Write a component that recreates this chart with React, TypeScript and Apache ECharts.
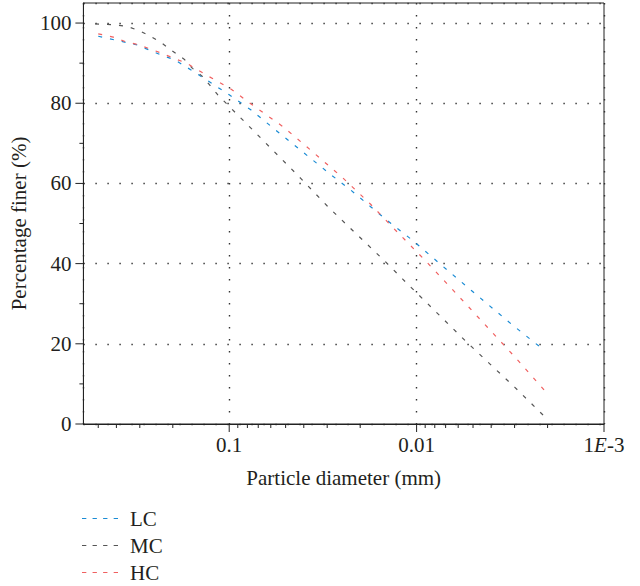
import React, { useEffect, useRef } from "react";
import * as echarts from "echarts";

// ---- Data (particle diameter in mm, percentage finer in %) ----
const LC_D = [0.5, 0.313, 0.23, 0.195, 0.15, 0.1, 0.0764, 0.0468, 0.0287, 0.0224, 0.0176, 0.0137, 0.0105, 0.0074, 0.0051, 0.0031, 0.0021];
const LC_P = [96.7, 94.6, 92.0, 90.8, 87.5, 82.1, 78.3, 70.2, 62.2, 58.3, 54.2, 50.0, 45.8, 39.7, 33.3, 24.8, 18.5];

const MC_D = [0.52, 0.416, 0.353, 0.306, 0.266, 0.232, 0.205, 0.174, 0.157, 0.139, 0.115, 0.1, 0.0733, 0.0586, 0.0414, 0.0299, 0.0211, 0.0149, 0.0119, 0.0054, 0.003, 0.0021];
const MC_P = [99.8, 99.6, 99.2, 98.2, 96.8, 95.2, 93.3, 91.0, 88.7, 86.7, 82.1, 79.2, 72.9, 68.3, 61.2, 54.3, 47.5, 40.8, 36.2, 20.4, 9.2, 2.1];

const HC_D = [0.5, 0.416, 0.36, 0.306, 0.23, 0.195, 0.169, 0.13, 0.1126, 0.0976, 0.0764, 0.0518, 0.0359, 0.0248, 0.0176, 0.0127, 0.009, 0.0065, 0.0042, 0.003, 0.002];
const HC_P = [97.3, 96.5, 95.4, 94.6, 92.5, 91.1, 90.0, 86.8, 85.2, 83.5, 79.8, 74.2, 67.9, 61.4, 54.8, 47.9, 40.8, 33.75, 24.2, 16.8, 7.5];

const SERIES_NAMES = ["LC", "MC", "HC"];
const SERIES_COLORS = ["#1a8bd4", "#555555", "#f06060"];

// ---- Axes ----
const X_MIN = 0.001;
const X_MAX = 0.6;
const Y_MIN = 0;
const Y_MAX = 105;
const Y_INTERVAL = 20;
const X_MAJOR_TICKS = [0.1, 0.01, 0.001];
const X_MINOR_TICKS = [0.5, 0.4, 0.3, 0.2, 0.09, 0.08, 0.07, 0.06, 0.05, 0.04, 0.03, 0.02, 0.009, 0.008, 0.007, 0.006, 0.005, 0.004, 0.003, 0.002];
const Y_MAJOR_TICKS = [0, 20, 40, 60, 80, 100];
const Y_MINOR_TICKS = [10, 30, 50, 70, 90];

const FONT = "Liberation Serif";
const FONT_SIZE = 21;
const TEXT_COLOR = "#231f20";
const AXIS_COLOR = "#222";
const LEGEND_ICON =
  "path://M0,0h4.3v1.2h-4.3z M10.5,0h4.3v1.2h-4.3z M21,0h4.3v1.2h-4.3z M31.5,0h4.3v1.2h-4.3z";

function pairs(xs: number[], ys: number[]) {
  return xs.map((x, i) => [x, ys[i]]);
}

export default function App() {
  const ref = useRef<HTMLDivElement>(null);

  useEffect(() => {
    if (!ref.current) return;
    const chart = echarts.init(ref.current, undefined, { renderer: "svg" });

    const dataSets = [pairs(LC_D, LC_P), pairs(MC_D, MC_P), pairs(HC_D, HC_P)];

    const lineSeries = SERIES_NAMES.map((name, i) => ({
      name,
      type: "line",
      data: dataSets[i],
      symbol: "none",
      color: SERIES_COLORS[i],
      itemStyle: { color: SERIES_COLORS[i] },
      lineStyle: { color: SERIES_COLORS[i], width: 1.2, type: [4, 8] },
      z: 3,
    }));

    const xTickSeries = {
      type: "custom",
      silent: true,
      z: 5,
      data: [
        ...X_MAJOR_TICKS.map((v) => [v, 8]),
        ...X_MINOR_TICKS.map((v) => [v, 4]),
      ],
      encode: { x: 0 },
      renderItem: (_params: any, api: any) => {
        const p = api.coord([api.value(0), Y_MIN]);
        const len = api.value(1);
        return {
          type: "line",
          shape: { x1: p[0], y1: p[1], x2: p[0], y2: p[1] + len },
          style: { stroke: AXIS_COLOR, lineWidth: 1 },
        };
      },
    };

    const yTickSeries = {
      type: "custom",
      silent: true,
      z: 5,
      data: [
        ...Y_MAJOR_TICKS.map((v) => [X_MAX, v, 8]),
        ...Y_MINOR_TICKS.map((v) => [X_MAX, v, 4]),
      ],
      encode: { x: 0, y: 1 },
      renderItem: (_params: any, api: any) => {
        const p = api.coord([X_MAX, api.value(1)]);
        const len = api.value(2);
        return {
          type: "line",
          shape: { x1: p[0], y1: p[1], x2: p[0] - len, y2: p[1] },
          style: { stroke: AXIS_COLOR, lineWidth: 1 },
        };
      },
    };

    const dotted = { type: [1.4, 10.6] as any, color: "#333", width: 1.4 };

    chart.setOption({
      animation: false,
      backgroundColor: "#ffffff",
      textStyle: { fontFamily: FONT, color: TEXT_COLOR },
      grid: {
        left: 82,
        right: 36,
        top: 3,
        bottom: 162,
        show: true,
        borderColor: AXIS_COLOR,
        borderWidth: 1,
        backgroundColor: "transparent",
      },
      legend: {
        data: SERIES_NAMES.map((name) => ({ name, icon: LEGEND_ICON })),
        orient: "vertical",
        left: 82,
        top: 508,
        padding: 0,
        itemWidth: 36,
        itemHeight: 14,
        itemGap: 6,
        textStyle: { fontSize: FONT_SIZE, fontFamily: FONT, color: TEXT_COLOR, padding: [0, 0, 0, 7] },
      },
      xAxis: {
        type: "log",
        logBase: 10,
        inverse: true,
        min: X_MIN,
        max: X_MAX,
        name: "Particle diameter (mm)",
        nameLocation: "middle",
        nameGap: 43,
        nameTextStyle: { fontSize: FONT_SIZE, fontFamily: FONT, color: TEXT_COLOR },
        axisLine: { show: true, onZero: false, lineStyle: { color: AXIS_COLOR, width: 1 } },
        axisTick: { show: false },
        minorTick: { show: false },
        splitLine: { show: true, lineStyle: dotted },
        axisLabel: {
          margin: 10,
          fontSize: FONT_SIZE,
          fontFamily: FONT,
          color: TEXT_COLOR,
          showMaxLabel: false,
          formatter: (v: number) => {
            const e = Math.round(Math.log10(v));
            if (Math.abs(Math.log10(v) - e) > 1e-6) return "";
            if (e === -1) return "0.1";
            if (e === -2) return "0.01";
            if (e === -3) return "1{i|E}-3";
            return "";
          },
          rich: {
            i: { fontStyle: "italic", fontSize: FONT_SIZE, fontFamily: FONT, color: TEXT_COLOR },
          },
        },
      },
      yAxis: {
        type: "value",
        min: Y_MIN,
        max: Y_MAX,
        interval: Y_INTERVAL,
        name: "Percentage finer (%)",
        nameLocation: "middle",
        nameGap: 48,
        nameTextStyle: { fontSize: FONT_SIZE, fontFamily: FONT, color: TEXT_COLOR, padding: [0, 20, 0, 0] },
        axisLine: { show: true, onZero: false, lineStyle: { color: AXIS_COLOR, width: 1 } },
        axisTick: { show: false },
        minorTick: { show: false },
        splitLine: { show: true, lineStyle: dotted },
        axisLabel: {
          margin: 12,
          fontSize: FONT_SIZE,
          fontFamily: FONT,
          color: TEXT_COLOR,
          showMaxLabel: false,
          formatter: (v: number) => (v % Y_INTERVAL === 0 ? String(v) : ""),
        },
      },
      series: [...lineSeries, xTickSeries, yTickSeries],
    } as any);

    return () => chart.dispose();
  }, []);

  return (
    <div
      ref={ref}
      style={{ position: "fixed", left: 0, top: 0, width: 640, height: 586, background: "#fff" }}
    />
  );
}
